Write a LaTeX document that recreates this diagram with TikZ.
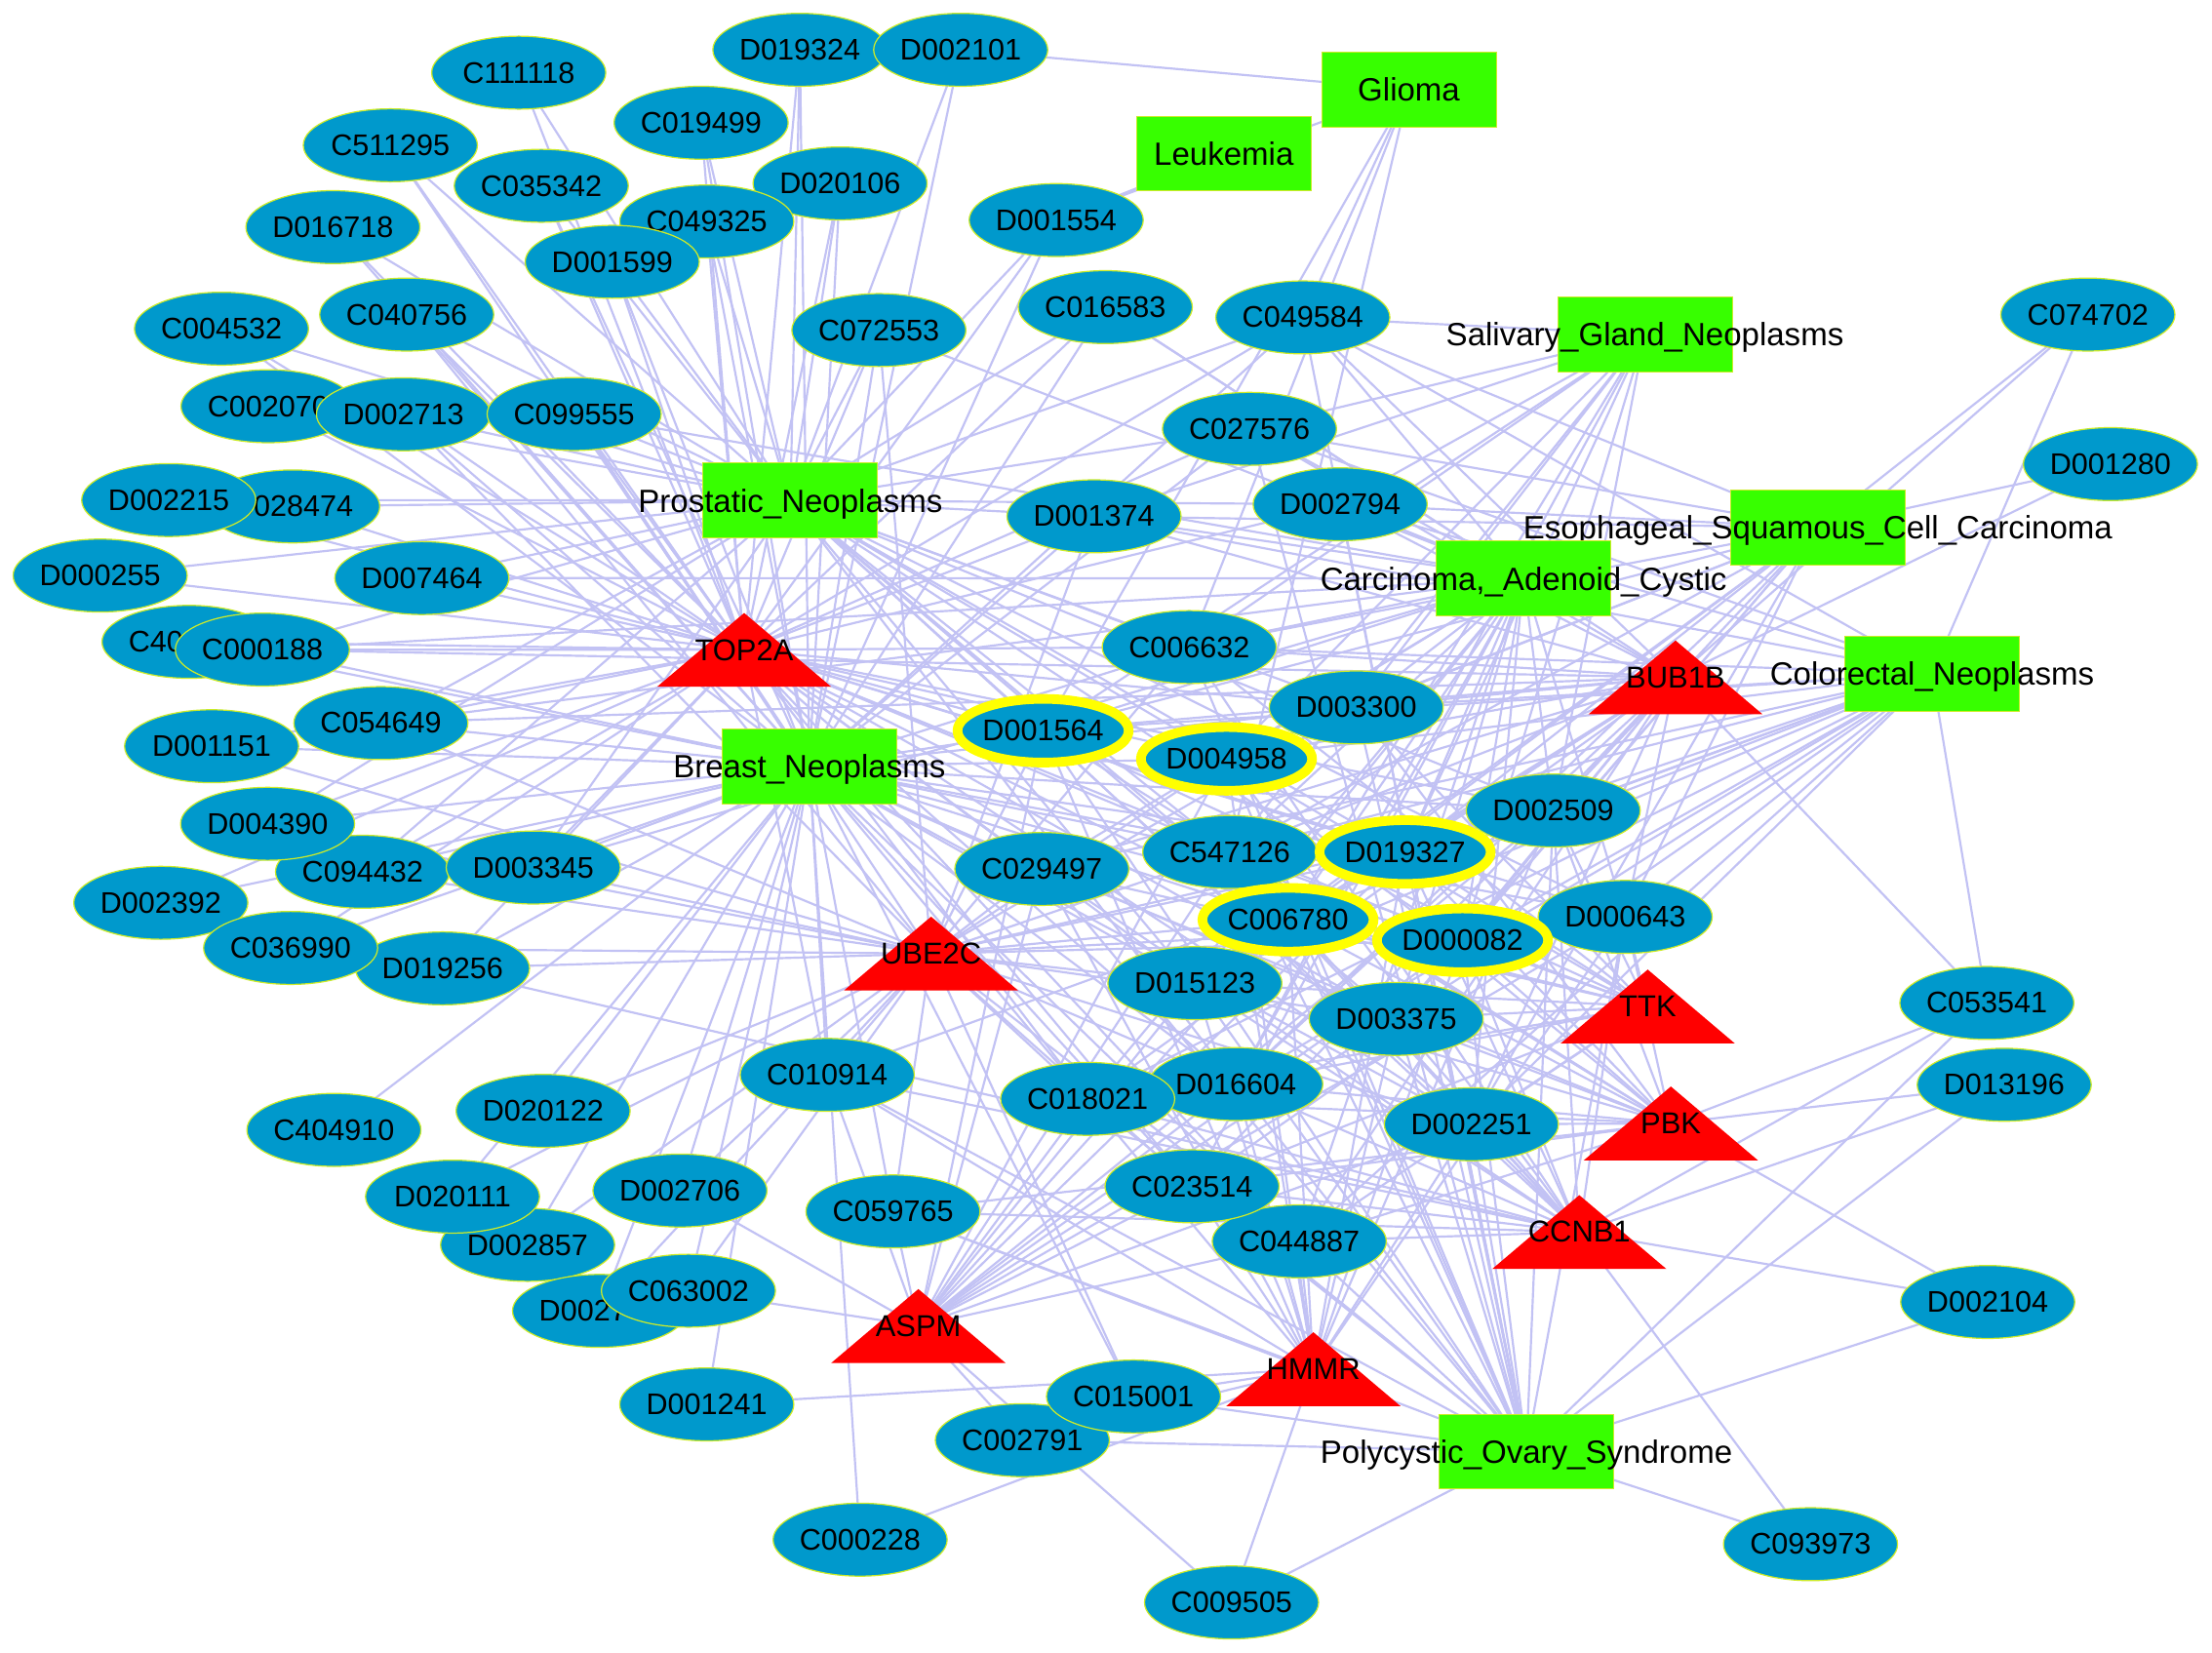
\documentclass[tikz,border=0pt]{standalone}
\usepackage{fontspec}
\setmainfont{Liberation Sans}
\usetikzlibrary{shapes.geometric}
\pgfdeclarelayer{bglayer}
\pgfdeclarelayer{edgelayer}
\pgfsetlayers{bglayer,edgelayer,main}
\definecolor{chemfill}{RGB}{0,153,204}
\definecolor{chemrim}{RGB}{205,235,40}
\definecolor{disfill}{RGB}{55,255,0}
\definecolor{genefill}{RGB}{255,0,0}
\definecolor{generim}{RGB}{255,170,0}
\definecolor{edgecol}{RGB}{194,194,244}
\definecolor{hlrim}{RGB}{255,255,0}
\begin{document}
\begin{tikzpicture}[x=0.014464cm, y=-0.014464cm,
  chem/.style={ellipse, fill=chemfill, draw=chemrim, line width=0.35pt, minimum width=1.785cm, minimum height=0.748cm, inner sep=0pt, font=\fontsize{8.7}{10}\selectfont, text=black},
  hichem/.style={chem, draw=hlrim, line width=2.8pt, minimum width=1.694cm, minimum height=0.653cm},
  dis/.style={rectangle, fill=disfill, draw=chemrim, line width=0.3pt, minimum width=1.79cm, minimum height=0.765cm, inner sep=0pt, text depth=0pt, font=\fontsize{9.4}{11}\selectfont, text=black},
  genebox/.style={rectangle, draw, draw opacity=0, minimum width=1.785cm, minimum height=0.757cm, inner sep=0pt, font=\fontsize{8.8}{10}\selectfont, text=black,
    path picture={\filldraw[fill=genefill, draw=generim, line width=0.8pt] (path picture bounding box.south west) -- (path picture bounding box.north) -- (path picture bounding box.south east) -- cycle;}},
  lnk/.style={draw=edgecol, line width=0.62pt}]
\begin{pgfonlayer}{bglayer}
\fill[white] (0,0) rectangle (1568,1171.2);
\end{pgfonlayer}
\useasboundingbox (0,0) rectangle (1568,1171.2);

% diseases
\node[dis] (Glioma) at (998.7,63.5) {\makebox[0pt]{Glioma}};
\node[dis] (Leukemia) at (867.5,109) {\makebox[0pt]{Leukemia}};
\node[dis] (Salivary) at (1166,237) {\makebox[0pt]{Salivary\_Gland\_Neoplasms}};
\node[dis] (Prostatic) at (560.3,354.7) {\makebox[0pt]{Prostatic\_Neoplasms}};
\node[dis] (Esophageal) at (1288.6,374) {\makebox[0pt]{Esophageal\_Squamous\_Cell\_Carcinoma}};
\node[dis] (Carcinoma) at (1080,410) {\makebox[0pt]{Carcinoma,\_Adenoid\_Cystic}};
\node[dis] (Colorectal) at (1369.6,477.6) {\makebox[0pt]{Colorectal\_Neoplasms}};
\node[dis] (Breast) at (573.7,543.3) {\makebox[0pt]{Breast\_Neoplasms}};
\node[dis] (Polycystic) at (1082,1029) {\makebox[0pt]{Polycystic\_Ovary\_Syndrome}};

% genes
\node[genebox] (TOP2A) at (527.5,460.7) {TOP2A};
\node[genebox] (BUB1B) at (1187.7,480.2) {BUB1B};
\node[genebox] (UBE2C) at (660,676) {UBE2C};
\node[genebox] (TTK) at (1168,713.5) {TTK};
\node[genebox] (PBK) at (1184.4,796.4) {PBK};
\node[genebox] (CCNB1) at (1119.5,873.4) {CCNB1};
\node[genebox] (ASPM) at (651,940) {ASPM};
\node[genebox] (HMMR) at (931,970.6) {HMMR};

% chemicals
\node[chem] (D019324) at (567,35.3) {D019324};
\node[chem] (D002101) at (681,35.3) {D002101};
\node[chem] (C111118) at (367.7,51.5) {C111118};
\node[chem] (C019499) at (497,87) {C019499};
\node[chem] (C511295) at (276.7,103) {C511295};
\node[chem] (D020106) at (595.5,130) {D020106};
\node[chem] (C035342) at (383.7,131.7) {C035342};
\node[chem] (C049325) at (501,157) {C049325};
\node[chem] (D016718) at (236,161) {D016718};
\node[chem] (D001554) at (748.7,156) {D001554};
\node[chem] (D001599) at (434,185.6) {D001599};
\node[chem] (C004532) at (157,233) {C004532};
\node[chem] (C040756) at (288.3,223) {C040756};
\node[chem] (C072553) at (623,234) {C072553};
\node[chem] (C016583) at (783.5,217.7) {C016583};
\node[chem] (C049584) at (923.5,225) {C049584};
\node[chem] (C074702) at (1480,223) {C074702};
\node[chem] (C002070) at (190,288) {C002070};
\node[chem] (D002713) at (286,293.7) {D002713};
\node[chem] (C099555) at (407,293.5) {C099555};
\node[chem] (C027576) at (885.7,304) {C027576};
\node[chem] (D001280) at (1496,329) {D001280};
\node[chem] (C028474) at (207.5,359) {C028474};
\node[chem] (D002215) at (119.6,354.5) {D002215};
\node[chem] (D001374) at (775.5,366) {D001374};
\node[chem] (D002794) at (950,357.5) {D002794};
\node[chem] (D000255) at (71,408) {D000255};
\node[chem] (D007464) at (299,409.8) {D007464};
\node[chem] (C40x) at (134,455) {C40\phantom{0000}};
\node[chem] (C000188) at (186,460.5) {C000188};
\node[chem] (C006632) at (843,458.7) {C006632};
\node[chem] (D003300) at (961.4,501.5) {D003300};
\node[chem] (C054649) at (270,512.6) {C054649};
\node[chem] (D001151) at (150,529) {D001151};
\node[hichem] (D001564) at (739.4,518) {D001564};
\node[hichem] (D004958) at (869.4,538) {D004958};
\node[chem] (C094432) at (257,618) {C094432};
\node[chem] (D004390) at (189.7,584) {D004390};
\node[chem] (D003345) at (378,615) {D003345};
\node[chem] (D002509) at (1101,574.6) {D002509};
\node[chem] (C029497) at (738.5,616) {C029497};
\node[chem] (C547126) at (871.7,604) {C547126};
\node[hichem] (D019327) at (996,604) {D019327};
\node[chem] (D002392) at (114,640) {D002392};
\node[hichem] (C006780) at (913,652) {C006780};
\node[chem] (D000643) at (1152,650) {D000643};
\node[hichem] (D000082) at (1036.7,666.6) {D000082};
\node[chem] (D019256) at (313.7,686.5) {D019256};
\node[chem] (C036990) at (206,672) {C036990};
\node[chem] (D015123) at (847,697) {D015123};
\node[chem] (D003375) at (989.7,722.3) {D003375};
\node[chem] (C053541) at (1408.4,711) {C053541};
\node[chem] (C010914) at (586.4,762) {C010914};
\node[chem] (D016604) at (876,768.5) {D016604};
\node[chem] (C018021) at (771,779) {C018021};
\node[chem] (D013196) at (1420.7,769) {D013196};
\node[chem] (C404910) at (236.7,801) {C404910};
\node[chem] (D020122) at (385,787.5) {D020122};
\node[chem] (D002251) at (1043,797) {D002251};
\node[chem] (D002857) at (374,882.5) {D002857};
\node[chem] (D020111) at (320.8,848.3) {D020111};
\node[chem] (D002706) at (482,844) {D002706};
\node[chem] (C044887) at (921,880) {C044887};
\node[chem] (C023514) at (845,841) {C023514};
\node[chem] (C059765) at (633,858.8) {C059765};
\node[chem] (D0027x) at (425,929.3) {D0027\phantom{00}};
\node[chem] (C063002) at (488,915) {C063002};
\node[chem] (D002104) at (1409,923) {D002104};
\node[chem] (D001241) at (501,995.6) {D001241};
\node[chem] (C002791) at (724.7,1021) {C002791};
\node[chem] (C015001) at (803.5,990) {C015001};
\node[chem] (C000228) at (609.7,1091.5) {C000228};
\node[chem] (C009505) at (873,1136) {C009505};
\node[chem] (C093973) at (1283.4,1094.7) {C093973};

\begin{pgfonlayer}{edgelayer}
\foreach \c in {C111118,C511295,C035342,C019499,C049325,D016718,D001599,C004532,C040756,C002070,D002713,C099555,D002215,C028474,D000255,D007464,C40x,C000188,C054649,D001151,D004390,C094432,D003345,D002392,C036990,D019256,D020106,D019324,C072553,D001554,C016583,C027576,D001374,C006632,D001564,D004958,C029497,C547126,D019327,C006780,D000082,D003300,D002509,D015123,D003375,D002251,D016604,C018021,C010914,C023514,C044887,C049584,D002794,D000643}
  \draw[lnk] (TOP2A.center) -- (\c.center);
\foreach \c in {C111118,C511295,C035342,C019499,C049325,D001599,D016718,C040756,C004532,C002070,D002713,C099555,C028474,D002215,D000255,D007464,C000188,C054649,D004390,C094432,D003345,D019324,D002101,D020106,C072553,D001554,C016583,C049584,C027576,D001374,D002794,C006632,D001564,D004958,D003300,C547126,D019327,C006780,D000082,D002509,D000643,D015123,D003375,D002251,D016604}
  \draw[lnk] (Prostatic.center) -- (\c.center);
\foreach \c in {D019324,D002101,D020106,C019499,C049325,D001599,C035342,C511295,D016718,C040756,C004532,D002713,C099555,C000188,C40x,D001151,C054649,D004390,C094432,D003345,D002392,C036990,D019256,C404910,D020122,D020111,D002706,D002857,C063002,D0027x,D001241,C010914,C059765,C072553,D001554,C016583,C049584,C027576,D001374,C006632,D001564,D004958,D003300,C029497,C547126,D019327,C006780,D000082,D002509,D000643,D015123,D003375,D016604,C018021,D002251,C023514,C044887,C000228,C015001}
  \draw[lnk] (Breast.center) -- (\c.center);
\foreach \c in {D019256,C036990,D003345,C094432,D004390,D001151,C054649,D020122,D020111,D002706,D002857,C063002,D0027x,C010914,C059765,C018021,D016604,C023514,C044887,C029497,C547126,D001564,D004958,C006780,D019327,D000082,D015123,D003375,D002251,D002509,D000643,C006632,D003300,D001374,C072553,C099555,D002713,C040756,C015001}
  \draw[lnk] (UBE2C.center) -- (\c.center);
\foreach \c in {D001564,D004958,C547126,D019327,C006780,D000082,D002509,D000643,D003300,C006632,D015123,D003375,D002251,D016604,C029497,C053541,C049584,C027576,D002794,D001374,C018021,C023514,C044887,C000188,C054649,C016583,C074702,D001280}
  \draw[lnk] (BUB1B.center) -- (\c.center);
\foreach \c in {D001564,D004958,C547126,D019327,C006780,D000082,D002509,D000643,D003300,D015123,D003375,D002251,D016604,C018021,C023514,C044887,C029497,C006632}
  \draw[lnk] (TTK.center) -- (\c.center);
\foreach \c in {D001564,D004958,C547126,D019327,C006780,D000082,D002509,D000643,D003300,D015123,D003375,D002251,D016604,C018021,C023514,C044887,C059765,D002104,C053541,D013196,C029497}
  \draw[lnk] (PBK.center) -- (\c.center);
\foreach \c in {D001564,D004958,C547126,D019327,C006780,D000082,D002509,D000643,D015123,D003375,D002251,D016604,C018021,C023514,C044887,C059765,D002104,C093973,C053541,D013196,C029497,D019256,C010914,C006632}
  \draw[lnk] (CCNB1.center) -- (\c.center);
\foreach \c in {D001564,D004958,C547126,D019327,C006780,D000082,D015123,D016604,C018021,C023514,C044887,C059765,C010914,C029497,D002251,D003375,C009505,D002706,C063002,D002509,D000643,C002791}
  \draw[lnk] (ASPM.center) -- (\c.center);
\foreach \c in {D001564,D004958,C547126,D019327,C006780,D000082,D015123,D016604,C018021,C023514,C044887,D003375,D002251,D002509,D000643,C015001,C009505,D001241,C010914,C029497,C059765,C000228,C002791}
  \draw[lnk] (HMMR.center) -- (\c.center);
\foreach \c in {C049584,C027576,D002794,D001374,C006632,D003300,D001564,D004958,C547126,D019327,C006780,D000082,D002509,D000643,D015123,D003375,D002251,D016604,C018021,C023514,C044887,C029497,C072553,C016583,C099555,D003345,C054649,C000188,D007464}
  \draw[lnk] (Carcinoma.center) -- (\c.center);
\foreach \c in {C074702,D001280,C049584,C027576,D002794,D001374,C006632,D003300,D001564,D004958,C547126,D019327,C006780,D000082,D002509,D000643,D015123,D003375,D002251,D016604}
  \draw[lnk] (Esophageal.center) -- (\c.center);
\foreach \c in {C074702,C053541,D001564,D004958,C547126,D019327,C006780,D000082,D002509,D000643,D003300,C006632,D015123,D003375,D002251,D016604,C018021,C023514,C044887,C029497,D001374,C027576,C049584,D002794,C010914}
  \draw[lnk] (Colorectal.center) -- (\c.center);
\foreach \c in {C049584,C027576,D002794,D001374,C006632,D001564,D004958,C547126,D019327,D003300,C006780,D000082,D002509,D016604}
  \draw[lnk] (Salivary.center) -- (\c.center);
\foreach \c in {C049584,C027576,D002794,C006632,D003300,D001564,D004958,C547126,D019327,C006780,D000082,D002509,D000643,D015123,D003375,D002251,D016604,C018021,C023514,C044887,C029497,C015001,C009505,C093973,D002104,C053541,D013196,C002791,C059765,C010914}
  \draw[lnk] (Polycystic.center) -- (\c.center);
\foreach \c in {D002101,D001554,C049584,C006632,D001564,C547126}
  \draw[lnk] (Glioma.center) -- (\c.center);
\foreach \c in {D001554}
  \draw[lnk] (Leukemia.center) -- (\c.center);
\end{pgfonlayer}
\end{tikzpicture}
\end{document}
